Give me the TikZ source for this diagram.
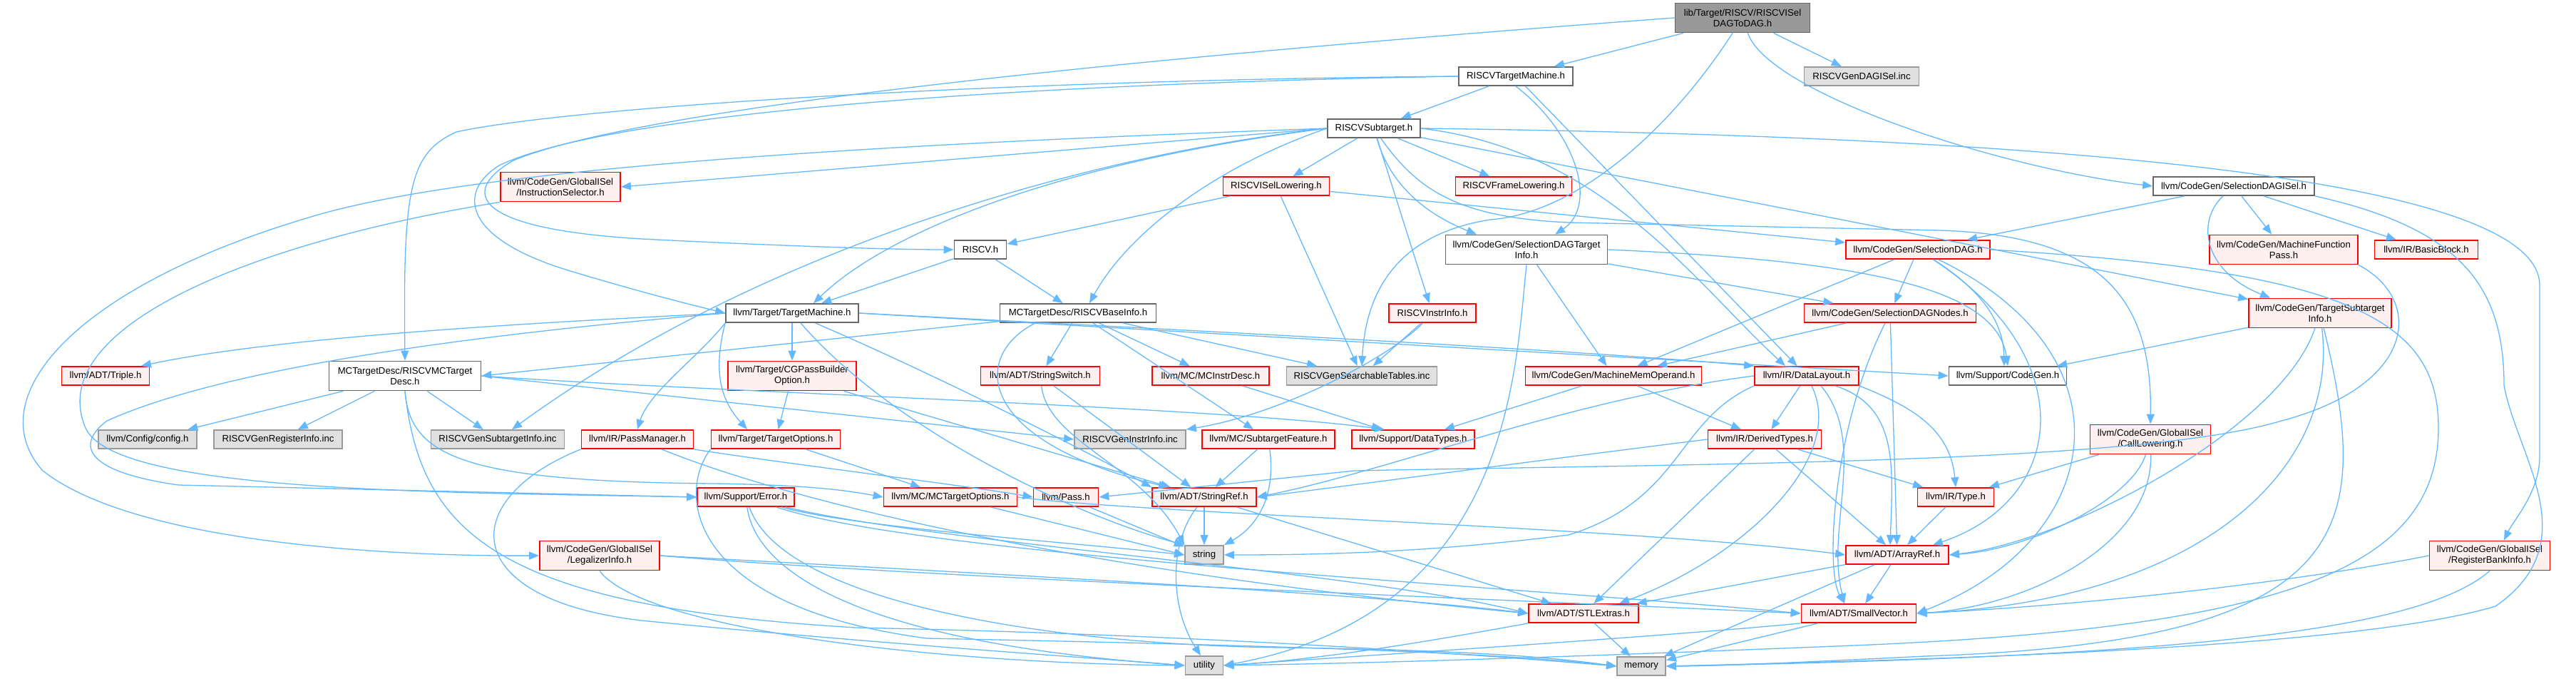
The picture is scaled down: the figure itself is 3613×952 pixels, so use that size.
\documentclass[tikz,border=0pt]{standalone}
\usepackage{fontspec}
\setmainfont{Liberation Sans}
\usetikzlibrary{arrows.meta}
\definecolor{edgec}{HTML}{63B8FF}
\definecolor{redf}{HTML}{FFF0F0}
\definecolor{grayf}{HTML}{E0E0E0}
\definecolor{grayb}{HTML}{999999}
\definecolor{darkb}{HTML}{666666}
\definecolor{rootf}{HTML}{999999}
\newcommand\nfnt{\fontsize{13.2}{15}\selectfont}
\tikzset{
  nd/.style={draw=darkb, fill=white, line width=1.8pt, minimum height=26pt, inner sep=0pt, font=\nfnt, align=center},
  wn/.style={nd},
  rn/.style={nd, draw=red, fill=redf},
  gn/.style={nd, draw=grayb, fill=grayf},
  tn/.style={nd, draw=darkb, fill=rootf},
  tall/.style={minimum height=41pt},
  dep/.style={draw=edgec, line width=1.3pt, -{Triangle[length=14pt,width=11pt]}}
}
\begin{document}
\begin{tikzpicture}[x=1pt,y=-1pt]
\useasboundingbox (0,0) rectangle (3613,952);
% nodes
\node[tn,tall,minimum width=189pt] (root) at (2444,25) {lib/Target/RISCV/RISCVISel\\DAGToDAG.h};
\node[wn,minimum width=160pt] (tm) at (2126,107) {RISCVTargetMachine.h};
\node[gn,minimum width=161pt] (gendag) at (2611,107) {RISCVGenDAGISel.inc};
\node[wn,minimum width=130pt] (sub) at (1927,180) {RISCVSubtarget.h};
\node[rn,tall,minimum width=168pt] (isel) at (786,262) {llvm/CodeGen/GlobalISel\\/InstructionSelector.h};
\node[rn,minimum width=149pt] (isl) at (1790,261) {RISCVISelLowering.h};
\node[rn,minimum width=163pt] (frame) at (2123,261) {RISCVFrameLowering.h};
\node[wn,minimum width=226pt] (sdisel) at (3133,261) {llvm/CodeGen/SelectionDAGISel.h};
\node[wn,minimum width=73pt] (riscv) at (1375,350) {RISCV.h};
\node[wn,tall,minimum width=227pt] (sdti) at (2141,350) {llvm/CodeGen/SelectionDAGTarget\\Info.h};
\node[rn,minimum width=202pt] (sdag) at (2690,350) {llvm/CodeGen/SelectionDAG.h};
\node[rn,tall,minimum width=208pt] (mfp) at (3203,350) {llvm/CodeGen/MachineFunction\\Pass.h};
\node[rn,minimum width=145pt] (bb) at (3403,350) {llvm/IR/BasicBlock.h};
\node[wn,minimum width=186pt] (ttm) at (1111,439) {llvm/Target/TargetMachine.h};
\node[wn,minimum width=219pt] (base) at (1512,439) {MCTargetDesc/RISCVBaseInfo.h};
\node[rn,minimum width=122pt] (instr) at (2009,439) {RISCVInstrInfo.h};
\node[rn,minimum width=241pt] (sdn) at (2651,439) {llvm/CodeGen/SelectionDAGNodes.h};
\node[rn,tall,minimum width=200pt] (tsi) at (3254,439) {llvm/CodeGen/TargetSubtarget\\Info.h};
\node[rn,minimum width=123pt] (triple) at (148,527) {llvm/ADT/Triple.h};
\node[wn,tall,minimum width=213pt] (mcdesc) at (568,527) {MCTargetDesc/RISCVMCTarget\\Desc.h};
\node[rn,tall,minimum width=180pt] (cgpass) at (1111,527) {llvm/Target/CGPassBuilder\\Option.h};
\node[rn,minimum width=167pt] (sswitch) at (1459,527) {llvm/ADT/StringSwitch.h};
\node[rn,minimum width=164pt] (mcid) at (1698,527) {llvm/MC/MCInstrDesc.h};
\node[gn,minimum width=211pt] (search) at (1910,527) {RISCVGenSearchableTables.inc};
\node[rn,minimum width=247pt] (mmo) at (2263,527) {llvm/CodeGen/MachineMemOperand.h};
\node[rn,minimum width=146pt] (dl) at (2534,527) {llvm/IR/DataLayout.h};
\node[wn,minimum width=165pt] (cg) at (2816,527) {llvm/Support/CodeGen.h};
\node[gn,minimum width=138pt] (config) at (207,616) {llvm/Config/config.h};
\node[gn,minimum width=180pt] (genreg) at (390,616) {RISCVGenRegisterInfo.inc};
\node[gn,minimum width=187pt] (gensub) at (698,616) {RISCVGenSubtargetInfo.inc};
\node[rn,minimum width=157pt] (pm) at (894,616) {llvm/IR/PassManager.h};
\node[rn,minimum width=181pt] (topt) at (1088,616) {llvm/Target/TargetOptions.h};
\node[gn,minimum width=156pt] (geninstr) at (1585,616) {RISCVGenInstrInfo.inc};
\node[rn,minimum width=186pt] (sfeat) at (1779,616) {llvm/MC/SubtargetFeature.h};
\node[rn,minimum width=172pt] (dtypes) at (1982,616) {llvm/Support/DataTypes.h};
\node[rn,minimum width=159pt] (derived) at (2475,616) {llvm/IR/DerivedTypes.h};
\node[rn,tall,minimum width=169pt] (calllow) at (3016,616) {llvm/CodeGen/GlobalISel\\/CallLowering.h};
\node[rn,minimum width=136pt] (error) at (1046,697) {llvm/Support/Error.h};
\node[rn,minimum width=187pt] (mcto) at (1333,697) {llvm/MC/MCTargetOptions.h};
\node[rn,minimum width=91pt] (pass) at (1495,697) {llvm/Pass.h};
\node[rn,minimum width=146pt] (sref) at (1689,697) {llvm/ADT/StringRef.h};
\node[rn,minimum width=107pt] (type) at (2743,697) {llvm/IR/Type.h};
\node[rn,tall,minimum width=168pt] (legal) at (841,779) {llvm/CodeGen/GlobalISel\\/LegalizerInfo.h};
\node[gn,minimum width=54pt] (string) at (1689,778) {string};
\node[rn,minimum width=144pt] (aref) at (2661,778) {llvm/ADT/ArrayRef.h};
\node[rn,tall,minimum width=169pt] (rbi) at (3492,779) {llvm/CodeGen/GlobalISel\\/RegisterBankInfo.h};
\node[rn,minimum width=154pt] (stl) at (2221,860) {llvm/ADT/STLExtras.h};
\node[rn,minimum width=161pt] (svec) at (2607,860) {llvm/ADT/SmallVector.h};
\node[gn,minimum width=53pt] (utility) at (1689,933) {utility};
\node[gn,minimum width=68pt] (memory) at (2302,934) {memory};
% root
\draw[dep] (root) -- (tm);
\draw[dep] (root) -- (gendag);
\draw[dep] (root) .. controls (2480,130) and (2800,235) .. (sdisel.west);
\draw[dep] (root.west) .. controls (1600,80) and (900,150) .. (720,225) .. controls (650,265) and (650,320) .. (900,335) .. controls (1100,345) and (1250,350) .. (riscv.west);
\draw[dep] (root) .. controls (2330,200) and (2200,300) .. (2090,308) .. controls (1950,330) and (1915,420) .. (search.north);
% tm
\draw[dep] (tm) -- (sub);
\draw[dep] (tm.south) .. controls (2215,190) and (2240,290) .. ([xshift=40pt]sdti.north);
\draw[dep] (tm) -- (dl);
\draw[dep] (tm.west) .. controls (1400,112) and (800,150) .. (640,185) .. controls (575,215) and (565,260) .. (mcdesc.north);
\draw[dep] (tm.west) .. controls (1400,118) and (850,160) .. (700,232) .. controls (640,270) and (650,335) .. (800,380) .. controls (900,410) and (960,425) .. (ttm.west);
% sub
\draw[dep] (sub.west) -- (isel.east);
\draw[dep] (sub) -- (isl);
\draw[dep] (sub) -- (frame);
\draw[dep] (sub) .. controls (1950,260) and (2000,300) .. ([xshift=-70pt]sdti.north);
\draw[dep] (sub) -- (instr);
\draw[dep] (sub) -- (tsi);
\draw[dep] (sub.east) .. controls (2250,210) and (2380,400) .. ([xshift=-30pt]dl.north);
\draw[dep] (sub) .. controls (1990,270) and (2050,305) .. (2200,312) -- (2720,323) .. controls (2950,330) and (3019,420) .. (calllow.north);
\draw[dep] (sub.east) .. controls (2800,190) and (3562,240) .. (3562,400) -- (3562,640) .. controls (3562,690) and (3525,730) .. ([xshift=20pt]rbi.north);
\draw[dep] (sub.west) .. controls (1500,225) and (1250,320) .. ([xshift=30pt]ttm.north);
\draw[dep] (sub.west) .. controls (1700,235) and (1580,330) .. ([xshift=16pt]base.north);
\draw[dep] (sub.west) .. controls (1500,220) and (1050,360) .. ([xshift=20pt]gensub.north);
\draw[dep] (sub.west) .. controls (1300,200) and (700,230) .. (450,300) .. controls (100,400) and (-30,560) .. (60,660) .. controls (200,770) and (600,780) .. (legal.west);
% isel
\draw[dep] (isel.south west) .. controls (350,340) and (60,460) .. (120,600) .. controls (160,690) and (600,690) .. (error.west);
% isl
\draw[dep] (isl) -- (riscv);
\draw[dep] (isl) -- (sdag);
\draw[dep] (isl) -- (search);
% sdisel
\draw[dep] (sdisel) -- (sdag);
\draw[dep] (sdisel) -- (mfp);
\draw[dep] (sdisel) -- (bb);
\draw[dep] (sdisel) .. controls (3080,310) and (3090,380) .. ([xshift=-70pt]tsi.north);
\draw[dep] (sdisel.south east) .. controls (3450,320) and (3512,400) .. (3512,540) .. controls (3530,640) and (3630,760) .. (3500,850) .. controls (3300,910) and (2700,925) .. (memory.east);
% riscv
\draw[dep] (riscv) -- (ttm);
\draw[dep] (riscv) -- (base);
% sdti
\draw[dep] (sdti) -- (sdn);
\draw[dep] (sdti) -- (mmo);
\draw[dep] (sdti.east) .. controls (2600,365) and (2800,400) .. (cg.north);
\draw[dep] (sdti.south) .. controls (2125,520) and (2120,860) .. (utility.east);
% sdag
\draw[dep] (sdag) -- (sdn);
\draw[dep] (sdag) -- (mmo);
\draw[dep] (sdag) .. controls (2800,420) and (2810,470) .. ([xshift=-5pt]cg.north);
\draw[dep] (sdag) .. controls (2920,500) and (2900,700) .. ([xshift=50pt]aref.north);
\draw[dep] (sdag) .. controls (3000,500) and (2950,760) .. (svec.east);
\draw[dep] (sdag.east) .. controls (3300,380) and (3420,450) .. (3420,600) .. controls (3420,800) and (3200,880) .. (2600,905) .. controls (2100,925) and (1900,930) .. (utility.east);
% mfp
\draw[dep] (mfp.south east) .. controls (3400,420) and (3390,540) .. (3200,590) .. controls (3000,650) and (2400,650) .. (1900,660) -- (pass.east);
% ttm
\draw[dep] (ttm.west) .. controls (800,450) and (400,470) .. ([xshift=50pt]triple.north);
\draw[dep] (ttm.west) .. controls (800,458) and (350,500) .. (150,590) .. controls (110,620) and (110,660) .. (250,680) -- (error.west);
\draw[dep] (ttm) -- (cgpass);
\draw[dep] (ttm.south west) .. controls (980,500) and (910,550) .. (pm.north);
\draw[dep] (ttm.south west) .. controls (1000,520) and (1010,560) .. ([xshift=-40pt]topt.north);
\draw[dep] (ttm) .. controls (1300,520) and (1500,620) .. (sref.north west);
\draw[dep] (ttm.east) .. controls (1700,465) and (2200,490) .. (dl.north west);
\draw[dep] (ttm.east) -- (cg.west);
\draw[dep] (ttm) .. controls (1250,600) and (1500,720) .. (string.north west);
% base
\draw[dep] (base) -- (mcdesc.east);
\draw[dep] (base) -- (sswitch);
\draw[dep] (base) -- (mcid);
\draw[dep] (base) -- (sfeat);
\draw[dep] (base) -- (search);
\draw[dep] ([xshift=-60pt]base.south) .. controls (1360,500) and (1370,620) .. ([xshift=-50pt]sref.north);
% instr
\draw[dep] (instr) .. controls (1950,500) and (1800,580) .. (geninstr.north east);
\draw[dep] (instr) -- (search);
% sdn
\draw[dep] (sdn) -- (mmo);
\draw[dep] (sdn) -- (aref);
\draw[dep] (sdn) .. controls (2570,600) and (2560,800) .. ([xshift=-20pt]svec.north);
% tsi
\draw[dep] (tsi) -- (cg);
\draw[dep] (tsi) .. controls (3200,600) and (2900,760) .. (aref.east);
\draw[dep] (tsi) .. controls (3280,650) and (3100,840) .. (svec.east);
\draw[dep] (tsi) .. controls (3330,750) and (3300,900) .. (2700,920) .. controls (2500,930) and (2400,934) .. (memory.east);
% mcdesc
\draw[dep] (mcdesc) -- (config);
\draw[dep] (mcdesc) -- (genreg);
\draw[dep] (mcdesc) -- (gensub);
\draw[dep] (mcdesc.east) -- (geninstr.west);
\draw[dep] (mcdesc.east) .. controls (1000,550) and (1700,570) .. ([xshift=-40pt]dtypes.north);
\draw[dep] (mcdesc.south) .. controls (575,640) and (650,675) .. (1000,678) .. controls (1150,680) and (1200,690) .. (mcto.west);
\draw[dep] (mcdesc.south) .. controls (590,750) and (700,850) .. (1200,880) .. controls (1700,890) and (2100,920) .. (memory.west);
% cgpass
\draw[dep] (cgpass) -- (topt);
\draw[dep] (cgpass) -- (sref);
% sswitch
\draw[dep] (sswitch) -- (sref);
\draw[dep] (sswitch) .. controls (1470,620) and (1600,650) .. (string.north west);
% mcid, mmo
\draw[dep] (mcid) -- (dtypes);
\draw[dep] (mmo) -- (dtypes);
\draw[dep] (mmo) -- (derived);
% dl
\draw[dep] (dl) -- (derived);
\draw[dep] (dl.south east) .. controls (2680,570) and (2735,600) .. (type.north);
\draw[dep] ([xshift=40pt]dl.south) .. controls (2662,570) and (2655,650) .. ([xshift=-10pt]aref.north);
\draw[dep] ([xshift=20pt]dl.south) .. controls (2620,620) and (2560,740) .. ([xshift=-20pt]svec.north);
\draw[dep] (dl) .. controls (2590,640) and (2450,780) .. ([xshift=50pt]stl.north);
\draw[dep] (dl.south west) .. controls (2350,590) and (2360,700) .. (2200,750) .. controls (2000,775) and (1850,778) .. (string.east);
\draw[dep] (dl.west) .. controls (2200,560) and (1950,660) .. (sref.east);
% topt
\draw[dep] (topt) -- (mcto);
\draw[dep] (topt.south west) .. controls (950,690) and (960,850) .. (1300,895) .. controls (1800,905) and (2100,915) .. (memory.west);
% sfeat
\draw[dep] (sfeat) -- (sref);
\draw[dep] (sfeat) .. controls (1790,700) and (1760,740) .. (string.north east);
% derived
\draw[dep] (derived) -- (type);
\draw[dep] (derived) -- (aref);
\draw[dep] (derived) -- (stl);
\draw[dep] (derived.west) .. controls (2200,640) and (1900,680) .. (sref.east);
% calllow
\draw[dep] (calllow) -- (type);
\draw[dep] (calllow) .. controls (2990,700) and (2850,770) .. (aref.east);
\draw[dep] (calllow) .. controls (3020,760) and (2850,850) .. (svec.east);
% error
\draw[dep] (error) .. controls (1200,740) and (1500,760) .. (string.west);
\draw[dep] (error) .. controls (1300,760) and (1900,800) .. (stl.west);
\draw[dep] (error) .. controls (1300,780) and (2100,820) .. (svec.west);
\draw[dep] (error) .. controls (1060,800) and (1200,900) .. (utility.west);
\draw[dep] (error) .. controls (1100,850) and (1500,905) .. (1800,908) .. controls (2100,912) and (2200,925) .. (memory.west);
% mcto
\draw[dep] (mcto) -- (string.west);
\draw[dep] (mcto.east) .. controls (1600,720) and (2300,740) .. (aref.west);
% pass, sref, type
\draw[dep] (pass) -- (string);
\draw[dep] (sref) -- (string);
\draw[dep] ([xshift=-10pt]sref.south) .. controls (1640,760) and (1640,850) .. ([xshift=-5pt]utility.north);
\draw[dep] (sref) -- (stl);
\draw[dep] (type) -- (aref);
% legal
\draw[dep] (legal.east) .. controls (1300,800) and (1900,830) .. (stl.west);
\draw[dep] (legal.east) .. controls (1300,810) and (2100,840) .. (svec.west);
\draw[dep] (legal.south) .. controls (900,880) and (1300,930) .. (utility.west);
% pm
\draw[dep] (pm.south east) .. controls (1100,650) and (1350,680) .. (pass.west);
\draw[dep] (pm) .. controls (1100,700) and (1500,800) .. (stl.west);
\draw[dep] (pm.south west) .. controls (640,700) and (640,840) .. (900,870) .. controls (1200,900) and (1500,920) .. (utility.west);
% aref
\draw[dep] (aref) -- (stl);
\draw[dep] (aref) -- (svec);
\draw[dep] (aref) -- (memory);
% rbi
\draw[dep] (rbi.west) .. controls (3200,820) and (2900,850) .. (svec.east);
\draw[dep] (rbi.south) .. controls (3400,880) and (3100,920) .. (memory.east);
% stl, svec
\draw[dep] (stl) -- (memory);
\draw[dep] (stl.south west) .. controls (2000,900) and (1850,925) .. (utility.east);
\draw[dep] (svec) -- (memory);
\draw[dep] (svec.south west) .. controls (2300,895) and (1900,920) .. (utility.east);
\end{tikzpicture}
\end{document}
